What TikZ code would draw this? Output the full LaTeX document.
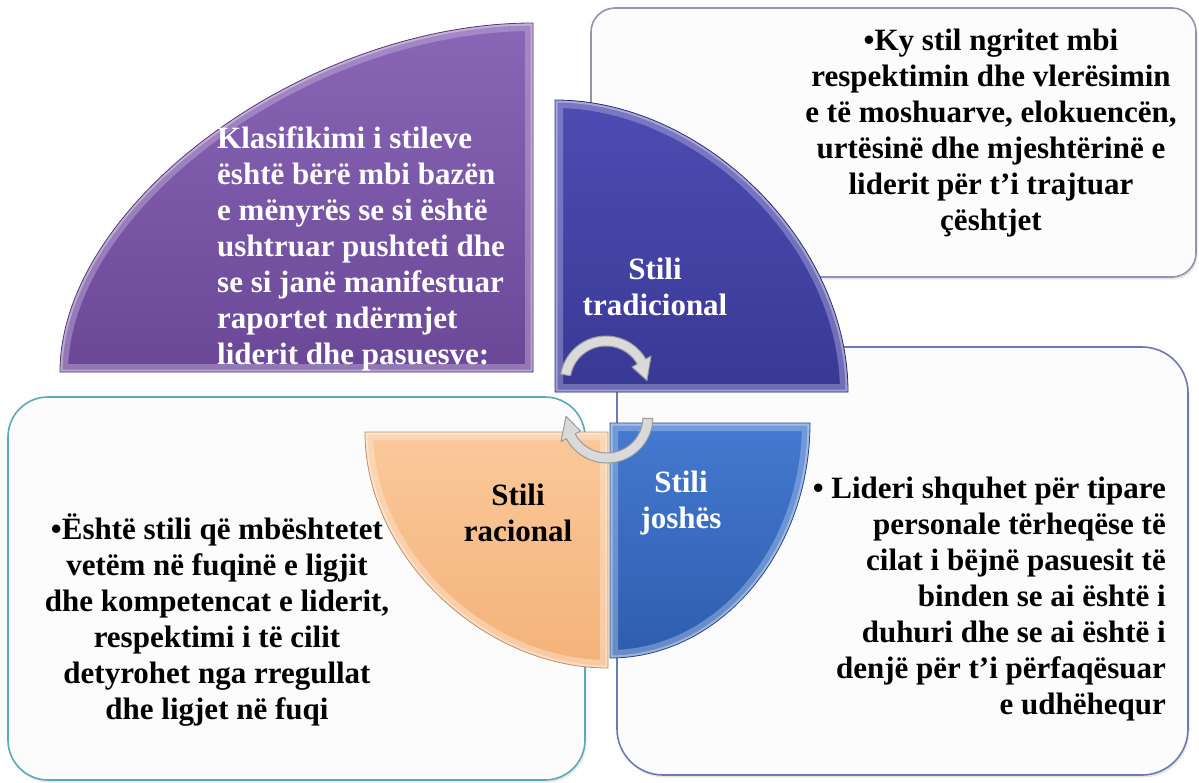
\documentclass[tikz,border=0pt]{standalone}
\usepackage{fontspec}
\setmainfont{Liberation Serif}
\usetikzlibrary{shadows}
\definecolor{purpT}{HTML}{8A66B6}
\definecolor{purpB}{HTML}{6A4897}
\definecolor{tradT}{HTML}{4E4CB2}
\definecolor{tradB}{HTML}{3A3895}
\definecolor{joshT}{HTML}{447AD0}
\definecolor{joshB}{HTML}{2E5DAE}
\definecolor{oranT}{HTML}{FAC99A}
\definecolor{oranB}{HTML}{F4B27A}
\definecolor{boxfill}{HTML}{FCFCFC}
\definecolor{brdTR}{HTML}{9790B0}
\definecolor{brdBR}{HTML}{6F78B5}
\definecolor{brdBL}{HTML}{5AA8BA}
\definecolor{arrF}{HTML}{DADADA}
\definecolor{arrD}{HTML}{9A9A9A}
\tikzset{
  box/.style={fill=boxfill, line width=1.6pt, drop shadow={shadow xshift=1.5pt, shadow yshift=-2.5pt, opacity=0.18}},
  txt/.style={font=\fontsize{31}{36}\selectfont\bfseries, inner sep=0pt},
  arrowband/.style={fill=arrF, draw=arrD, line width=1pt, line join=round},
}
\newcommand\bevelshape[4]{% path, top color, bottom color, highlight
  \shade[top color=#2, bottom color=#3] #1;
  \begin{scope}
    \clip #1;
    \draw[#4, opacity=0.45, line width=16pt] #1;
    \draw[white, opacity=0.35, line width=5pt] #1;
  \end{scope}
  \draw[#3!80!black, line width=0.8pt] #1;
}
\def\purplepath{(533,372) -- (60,372) .. controls (60,204) and (306,23) .. (533,23) -- cycle}
\def\tradpath{(555,392) -- (555,100) .. controls (704,100) and (848,243) .. (848,392) -- cycle}
\def\oranpath{(608,432) -- (365,432) .. controls (365,555) and (482,668) .. (608,668) -- cycle}
\def\joshpath{(610,423) -- (810,423) .. controls (810,552) and (720,658) .. (610,658) -- cycle}
\begin{document}
\begin{tikzpicture}[x=1pt,y=-1pt]
\useasboundingbox (0,0) rectangle (1199,782);
% rounded boxes
\draw[box, draw=brdTR, rounded corners=24pt] (591,8) rectangle (1196,277);
\draw[box, draw=brdBR, rounded corners=46pt] (617,347) rectangle (1188,775);
\draw[box, draw=brdBL, rounded corners=40pt] (8,397) rectangle (585,780);
% quarter shapes
\bevelshape{\purplepath}{purpT}{purpB}{purpT!50!white}
\bevelshape{\tradpath}{tradT}{tradB}{tradT!45!white}
\bevelshape{\oranpath}{oranT}{oranB}{oranT!40!white}
\bevelshape{\joshpath}{joshT}{joshB}{joshT!45!white}
% cycle arrows
\begin{scope}[shift={(606,382)}]
  \path[arrowband] (190:46) arc[start angle=190, end angle=330, radius=46]
     -- (330:52) -- (358:41) -- (330:30) -- (330:36)
     arc[start angle=330, end angle=190, radius=36] -- cycle;
\end{scope}
\begin{scope}[shift={(607,417)}]
  \path[arrowband] (2:46) arc[start angle=2, end angle=152, radius=46]
     -- (152:52) -- (181:41) -- (152:30) -- (152:36)
     arc[start angle=152, end angle=2, radius=36] -- cycle;
\end{scope}
% texts
\node[txt, text=white, align=left, anchor=west] (intro) at (217,249)
  {Klasifikimi i stileve\\është bërë mbi bazën\\e mënyrës se si është\\ushtruar pushteti dhe\\se si janë manifestuar\\raportet ndërmjet\\liderit dhe pasuesve:};
\node[txt, align=center] (trtext) at (991,133)
  {•Ky stil ngritet mbi\\respektimin dhe vlerësimin\\e të moshuarve, elokuencën,\\urtësinë dhe mjeshtërinë e\\liderit për t’i trajtuar\\çështjet};
\node[txt, text=white, align=center] (trad) at (655,287) {Stili\\tradicional};
\node[txt, align=center] (rac) at (518,513) {Stili\\racional};
\node[txt, text=white, align=center] (josh) at (681,503) {Stili\\joshës};
\node[txt, align=center] (bltext) at (217,620)
  {•Është stili që mbështetet\\vetëm në fuqinë e ligjit\\dhe kompetencat e liderit,\\respektimi i të cilit\\detyrohet nga rregullat\\dhe ligjet në fuqi};
\node[txt, align=right, anchor=east] (brtext) at (1166,599)
  {• Lideri shquhet për tipare\\personale tërheqëse të\\cilat i bëjnë pasuesit të\\binden se ai është i\\duhuri dhe se ai është i\\denjë për t’i përfaqësuar\\e udhëhequr};
\end{tikzpicture}
\end{document}
